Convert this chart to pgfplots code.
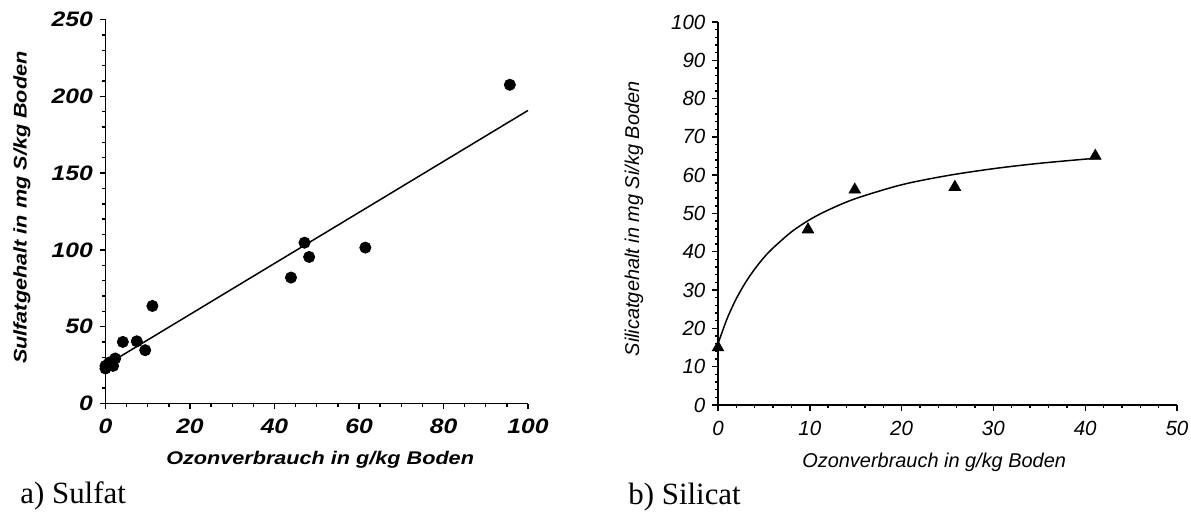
\documentclass[border=0pt]{standalone}
\usepackage{fontspec}
\usepackage{pgfplots}
\pgfplotsset{compat=1.18}
\setmainfont{Liberation Serif}
\newfontfamily\lsans[FakeStretch=1.18]{Liberation Sans}
\newfontfamily\rsans{Liberation Sans}
\begin{document}
\begin{tikzpicture}
\path[use as bounding box] (0,0) rectangle (595.5bp,257.5bp);
% ---------- a) Sulfat ----------
\begin{axis}[
  at={(52.75bp,55.75bp)}, anchor=south west,
  scale only axis, width=211.25bp, height=192bp,
  xmin=0, xmax=100, ymin=0, ymax=250,
  axis x line*=bottom, axis y line*=left,
  axis line style={-, line width=0.9pt},
  tick pos=left, tick align=outside,
  xtick={0,20,...,100}, ytick={0,50,...,250},
  minor x tick num=3, minor y tick num=4,
  major tick length=2.8bp, minor tick length=1.6bp,
  every tick/.style={black, line width=0.7pt},
  /pgf/number format/assume math mode=true,
  ticklabel style={font=\lsans\bfseries\itshape\fontsize{10.5}{11}\selectfont},
  xticklabel style={yshift=-1.5bp},
  label style={font=\lsans\bfseries\itshape\fontsize{9.2}{10}\selectfont},
  xlabel={Ozonverbrauch in g/kg Boden},
  ylabel={Sulfatgehalt in mg S/kg Boden},
  xlabel style={at={(axis description cs:0.508,-0.146)}, anchor=center},
  ylabel style={at={(axis description cs:-0.198,0.51)}, anchor=center},
  clip=false,
]
\addplot[only marks, mark=*, mark size=2.8bp, black] coordinates {
(0,24.5) (0,22.8) (0.5,25) (0.9,26.7) (1.4,25.6) (1.8,24.5) (2.3,29.3)
(4.1,40.1) (7.4,40.5) (9.4,34.7) (11.1,63.5) (43.9,82.0) (47.1,104.7)
(48.2,95.4) (61.5,101.5) (95.7,207.5)
};
\addplot[black, line width=0.75pt] coordinates {(0,24.8) (100,190.8)};
\end{axis}
% ---------- b) Silicat ----------
\begin{axis}[
  at={(359bp,55bp)}, anchor=south west,
  scale only axis, width=229.5bp, height=191.5bp,
  xmin=0, xmax=50, ymin=0, ymax=100,
  axis x line*=bottom, axis y line*=left,
  axis line style={-, line width=0.9pt},
  tick pos=left, tick align=outside,
  xtick={0,10,...,50}, ytick={0,10,...,100},
  minor x tick num=4, minor y tick num=4,
  major tick length=2.8bp, minor tick length=1.6bp,
  every tick/.style={black, line width=0.7pt},
  /pgf/number format/assume math mode=true,
  ticklabel style={font=\rsans\itshape\fontsize{10.3}{11}\selectfont},
  xticklabel style={yshift=-2bp},
  label style={font=\rsans\itshape\fontsize{10}{11}\selectfont},
  xlabel={Ozonverbrauch in g/kg Boden},
  ylabel={Silicatgehalt in mg Si/kg Boden},
  xlabel style={at={(axis description cs:0.471,-0.149)}, anchor=center},
  ylabel style={at={(axis description cs:-0.183,0.486)}, anchor=center},
  clip=false,
]
\addplot[black, line width=0.75pt, smooth] coordinates {
(0,16) (1,22.6) (2,27.8) (3,32) (4,35.5) (5,38.5) (6,41) (8,45.2)
(10,48.4) (12,50.9) (15,53.9) (20,57.5) (25,59.9) (30,61.7) (35,63.1) (41,64.4)
};
\addplot[only marks, mark=triangle*, mark size=3.3bp, black] coordinates {
(0,15.0) (9.8,45.8) (14.9,56.2) (25.8,56.9) (41.1,65.0)
};
\end{axis}
\node[anchor=base west, font=\fontsize{15.5}{17}\selectfont, inner sep=0pt] at (10bp,6bp) {a) Sulfat};
\node[anchor=base west, font=\fontsize{15.5}{17}\selectfont, inner sep=0pt] at (314bp,5.5bp) {b) Silicat};
\end{tikzpicture}
\end{document}
